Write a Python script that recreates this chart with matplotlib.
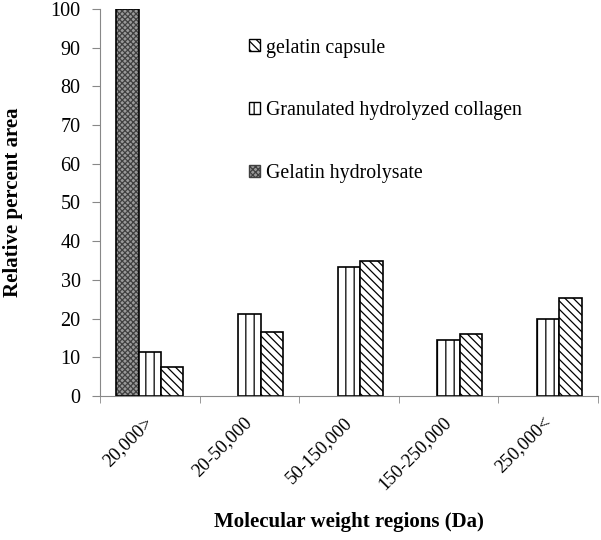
import numpy as np
import matplotlib
matplotlib.use("Agg")
import matplotlib.pyplot as plt
from matplotlib.patches import Patch

plt.rcParams['font.family'] = ['Liberation Serif', 'DejaVu Serif']
plt.rcParams['hatch.linewidth'] = 0.9

# data
regions = ["20,000>", "20-50,000", "50-150,000", "150-250,000", "250,000<"]
hydrolysate = [100, 0, 0, 0, 0]
granulated = [11.4, 21.3, 33.4, 14.4, 20.0]
capsule = [7.6, 16.6, 35.0, 15.9, 25.3]

fig = plt.figure(figsize=(6.01, 5.40), dpi=100)
ax = fig.add_axes([0.1664, 0.2667, 0.8286, 0.7166])

x = np.arange(len(regions)) + 0.5
w = 0.225

# gelatin hydrolysate - dark dotted fill (no outline on empty bars)
lw_h = [1.2 if v > 0 else 0 for v in hydrolysate]
ax.bar(x - w, hydrolysate, w, color="#9a9a9a", edgecolor="#404040",
       hatch="xxxxxx", linewidth=0)
ax.bar(x - w, hydrolysate, w, fill=False, edgecolor="black", linewidth=lw_h)
# granulated collagen - vertical lines
ax.bar(x, granulated, w, color="white", edgecolor="black", hatch="||",
       linewidth=1.2)
# capsule - diagonal lines
ax.bar(x + w, capsule, w, color="white", edgecolor="black", hatch="\\\\\\\\",
       linewidth=1.2)

ax.set_xlim(0, 5)
ax.set_ylim(0, 100)
ax.set_yticks(np.arange(0, 101, 10))
ax.tick_params(axis='y', labelsize=14.5, length=6, pad=8, color="#888888")

ax.set_xticks(x)
ax.set_xticklabels(regions, rotation=45, ha="right", va="center",
                   rotation_mode="anchor", fontsize=13.5)
ax.set_xticks(np.arange(0, 6), minor=True)
ax.tick_params(axis='x', which='major', length=0, pad=17)
ax.tick_params(axis='x', which='minor', length=5, color="#888888")

for s in ["top", "right"]:
    ax.spines[s].set_visible(False)
for s in ["left", "bottom"]:
    ax.spines[s].set_color("#888888")

ax.set_ylabel("Relative percent area", fontsize=15, fontweight="bold")
ax.yaxis.set_label_coords(-0.155, 0.5)
ax.set_xlabel("Molecular weight regions (Da)", fontsize=15, fontweight="bold")
ax.xaxis.set_label_coords(0.5, -0.30)

handles = [
    Patch(facecolor="white", edgecolor="black", hatch="\\\\\\\\"),
    Patch(facecolor="white", edgecolor="black", hatch="||"),
    Patch(facecolor="#9a9a9a", edgecolor="#404040", hatch="xxxxxx"),
]
labels = ["gelatin capsule", "Granulated hydrolyzed collagen",
          "Gelatin hydrolysate"]
ax.legend(handles, labels, loc="upper left", bbox_to_anchor=(0.264, 0.97),
          frameon=False, fontsize=14.3, labelspacing=2.2, handlelength=0.55,
          handleheight=0.55, handletextpad=0.3)

fig.savefig("out.png", dpi=100)
